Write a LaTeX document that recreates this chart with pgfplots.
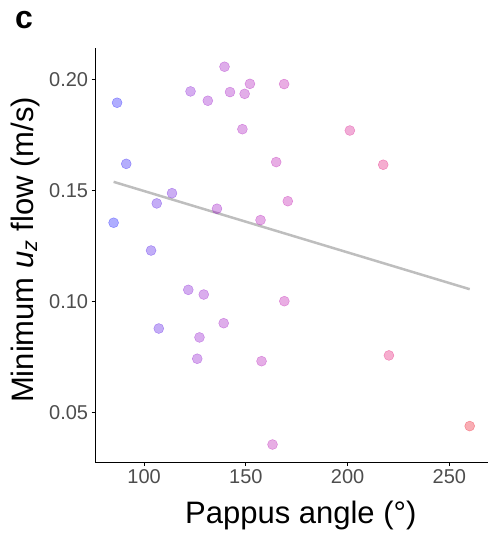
\documentclass[border=0pt]{standalone}
\usepackage{pgfplots}
\pgfplotsset{compat=1.18}
\usepackage{fontspec}
\setmainfont{Liberation Sans}
\definecolor{ticktext}{HTML}{4D4D4D}
\definecolor{fitline}{HTML}{BEBEBE}

\begin{document}
\begin{tikzpicture}
\useasboundingbox (0pt,0pt) rectangle (489pt,537pt);
\begin{axis}[
  at={(95.3pt,74.7pt)}, anchor=south west,
  scale only axis, width=392.7pt, height=414pt,
  xmin=76, xmax=269, ymin=0.0277, ymax=0.2140,
  axis x line*=bottom, axis y line*=left,
  axis line style={line width=1.1pt, black, -},
  tick align=outside, major tick length=3.7pt,
  tick style={line width=1.1pt, black},
  xtick={100,150,200,250}, ytick={0.05,0.10,0.15,0.20},
  scaled y ticks=false,
  yticklabel style={/pgf/number format/.cd, fixed, fixed zerofill, precision=2},
  ticklabel style={font=\fontsize{20}{24}\selectfont, text=ticktext},
  /pgf/number format/assume math mode=true,
  colormap={bluered}{rgb255=(0,0,255) rgb255=(140,0,200) rgb255=(190,0,165) rgb255=(225,0,110) rgb255=(235,0,20)},
  point meta min=84, point meta max=261,
  clip=false,
]
\addplot[fitline, line width=2.5pt] coordinates {(85,0.1539) (260,0.1056)};
\addplot[scatter, only marks, mark=*, mark size=5pt, point meta=x,
  scatter/use mapped color={draw=mapped color, fill=mapped color, fill opacity=0.32, draw opacity=0.4}]
  table {
x y
86.7 0.1895
91.2 0.1620
85.0 0.1355
103.4 0.1230
106.2 0.1442
113.7 0.1488
122.8 0.1946
131.3 0.1904
139.5 0.2057
142.2 0.1943
149.4 0.1935
152.0 0.1980
148.3 0.1776
135.8 0.1418
168.8 0.1979
164.9 0.1628
170.6 0.1452
157.2 0.1367
201.1 0.1770
217.5 0.1616
121.7 0.1053
129.3 0.1032
107.2 0.0879
139.1 0.0903
127.2 0.0839
126.1 0.0743
168.9 0.1002
157.7 0.0732
220.3 0.0758
163.1 0.0357
260.0 0.0440
};
\end{axis}
\node[anchor=base west, inner sep=0pt, font=\bfseries\fontsize{32}{36}\selectfont] at (15pt,508pt) {c};
\node[anchor=base, inner sep=0pt, font=\fontsize{31}{36}\selectfont] at (300.8pt,13.7pt) {Pappus angle (°)};
\node[rotate=90, anchor=base, inner sep=0pt, font=\fontsize{31}{36}\selectfont] at (33.3pt,287pt) {Minimum \textit{u}\textsubscript{\textit{z}} flow (m/s)};
\end{tikzpicture}
\end{document}
